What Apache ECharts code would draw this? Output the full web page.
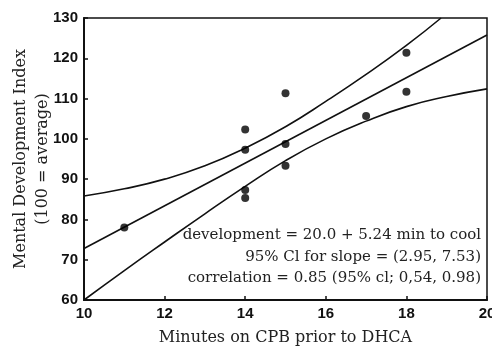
<!DOCTYPE html>
<html>
<head>
<meta charset="utf-8">
<script src="https://cdn.jsdelivr.net/npm/echarts@6/dist/echarts.min.js"></script>
<style>
  html, body { margin: 0; padding: 0; background: #fff; }
  #chart { width: 492px; height: 347px; }
</style>
</head>
<body>
<div id="chart"></div>
<script>
// observed points: minutes on CPB vs MDI
const minutes = [11, 14, 14, 14, 14, 15, 15, 15, 17, 18, 18];
const mdi = [78.0, 102.3, 97.3, 87.3, 85.3, 111.3, 98.7, 93.3, 105.7, 121.4, 111.7];

// fitted line and 95% band
const fitLine = [[10, 72.8], [20, 125.8]];
const upperBand = [[10, 85.8], [11, 87.6], [12, 90.0], [13, 93.3], [14, 97.7], [15, 103.0], [16, 109.3], [17, 116.0], [18, 123.2], [18.86, 130]];
const lowerBand = [[10, 60.0], [11, 67.3], [12, 74.4], [13, 81.4], [14, 88.2], [15, 94.6], [16, 100.0], [17, 104.4], [18, 108.0], [19, 110.5], [20, 112.4]];

const notes = [
  'development = 20.0 + 5.24 min to cool',
  '95% Cl for slope = (2.95, 7.53)',
  'correlation = 0.85 (95% cl; 0,54, 0.98)',
];

const serif = '"DejaVu Serif", "Liberation Serif", serif';
const tickFont = {
  color: '#111',
  fontFamily: '"Liberation Sans", Arial, sans-serif',
  fontWeight: 'bold',
  fontSize: 15,
};

const chart = echarts.init(document.getElementById('chart'));

const option = {
  animation: false,
  grid: {
    left: 84,
    right: 5,
    top: 18,
    bottom: 47,
    outerBoundsMode: 'none',
    show: true,
    borderColor: '#111',
    borderWidth: 1.5,
  },
  xAxis: {
    type: 'value',
    min: 10,
    max: 20,
    interval: 2,
    name: 'Minutes on CPB prior to DHCA',
    nameLocation: 'middle',
    nameGap: 30,
    nameMoveOverlap: false,
    nameTextStyle: {color: '#222', fontFamily: serif, fontSize: 16},
    axisLine: {show: true, lineStyle: {color: '#111', width: 2}},
    axisTick: {show: true, inside: true, length: 4, lineStyle: {color: '#111', width: 1.5}},
    axisLabel: {...tickFont, margin: 6},
    splitLine: {show: false},
  },
  yAxis: {
    type: 'value',
    min: 60,
    max: 130,
    interval: 10,
    name: 'Mental Development Index\n(100 = average)',
    nameLocation: 'middle',
    nameRotate: 90,
    nameGap: 30,
    nameMoveOverlap: false,
    nameTextStyle: {color: '#222', fontFamily: serif, fontSize: 16, lineHeight: 22},
    axisLine: {show: true, lineStyle: {color: '#111', width: 2}},
    axisTick: {show: true, inside: true, length: 4, lineStyle: {color: '#111', width: 1.5}},
    axisLabel: {...tickFont, margin: 6},
    splitLine: {show: false},
  },
  graphic: notes.map((t, i) => ({
    type: 'text',
    x: 481,
    y: 235 + i * 21.7,
    style: {
      text: t,
      align: 'right',
      verticalAlign: 'middle',
      fill: '#222',
      fontFamily: serif,
      fontSize: 15,
    },
  })),
  series: [
    {
      type: 'line',
      data: fitLine,
      symbol: 'none',
      lineStyle: {color: '#111', width: 1.6},
    },
    {
      type: 'line',
      data: upperBand,
      smooth: 0.5,
      symbol: 'none',
      lineStyle: {color: '#111', width: 1.6},
    },
    {
      type: 'line',
      data: lowerBand,
      smooth: 0.5,
      symbol: 'none',
      lineStyle: {color: '#111', width: 1.6},
    },
    {
      type: 'scatter',
      data: minutes.map((m, i) => [m, mdi[i]]),
      symbolSize: 8,
      itemStyle: {color: '#000'},
      z: 5,
    },
  ],
};

chart.setOption(option);
</script>
</body>
</html>
